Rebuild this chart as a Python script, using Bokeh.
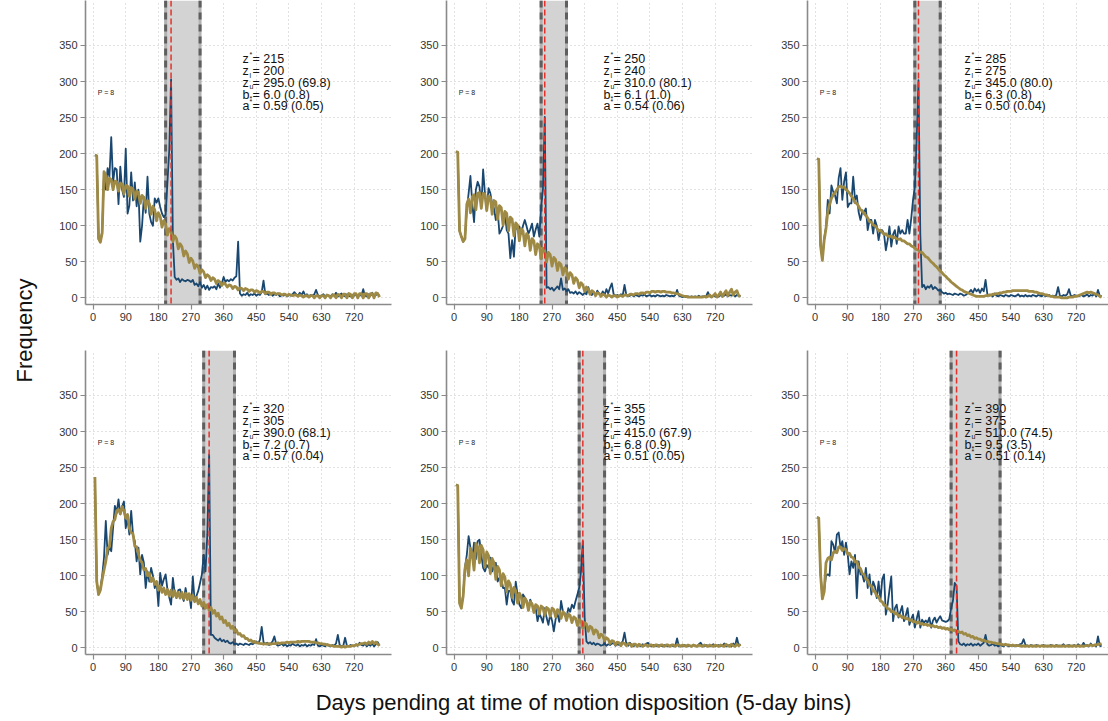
from bokeh.plotting import figure
from bokeh.layouts import row, column
from bokeh.models import BoxAnnotation, Span, Range1d
from bokeh.core.properties import value
from bokeh.embed import file_html
from bokeh.resources import INLINE

# ---------------- data ----------------
bins = list(range(5, 791, 5))  # 5-day bins (days pending)

zstar = [215, 250, 285, 320, 355, 390]
z_low = [200, 240, 275, 305, 345, 375]
z_up = [295.0, 310.0, 345.0, 390.0, 415.0, 510.0]
z_up_se = [69.8, 80.1, 80.0, 68.1, 67.9, 74.5]
b_val = [6.0, 6.1, 6.3, 7.2, 6.8, 9.5]
b_se = [0.8, 1.0, 0.8, 0.7, 0.9, 3.5]
a_val = [0.59, 0.54, 0.50, 0.57, 0.51, 0.51]
a_se = [0.05, 0.06, 0.04, 0.04, 0.05, 0.14]
poly_order = [8, 8, 8, 8, 8, 8]

x_ticks = [0, 90, 180, 270, 360, 450, 540, 630, 720]
y_ticks = [0, 50, 100, 150, 200, 250, 300, 350]

obs1 = [198,197,82,78,92,172,150,180,168,223,
        160,180,178,130,182,150,140,207,117,128,
        174,135,160,127,150,78,100,140,118,168,
        117,105,100,138,132,138,126,117,112,115,
        160,205,303,80,29,25,27,22,26,24,
        23,25,24,22,25,18,20,16,22,14,
        18,12,17,11,15,14,16,12,20,14,
        20,29,22,25,23,26,24,28,30,78,
        6,3,5,4,7,3,5,4,6,3,
        5,4,8,24,5,6,4,7,3,5,
        4,6,2,4,3,5,2,4,3,5,
        8,5,3,7,4,9,3,5,2,4,
        3,5,11,4,2,3,5,2,4,3,
        2,5,3,7,2,4,6,3,2,5,
        3,2,4,3,5,2,4,3,12,3,
        2,5,3,7,2,4,6,2]
cf1 = [198,197,82,77,90,175,170,150,166,164,
       150,162,161,148,159,158,144,156,155,141,
       153,151,137,148,146,131,142,139,124,135,
       131,116,127,122,107,118,113,98,107,102,
       87,96,92,78,86,82,68,75,71,58,
       65,61,49,55,51,41,46,43,34,39,
       36,28,32,30,24,28,26,20,24,22,
       17,21,19,15,18,17,13,16,15,11,
       14,13,10,13,12,9,11,11,8,10,
       9,7,9,9,6,8,8,5,7,7,
       5,6,6,4,5,5,3,5,4,3,
       4,4,2,4,3,1,3,3,1,3,
       3,0,3,3,0,3,3,0,4,3,
       0,4,4,0,5,4,0,5,5,0,
       6,5,0,6,6,0,6,6,0,6,
       6,0,6,6,0,7,6,1]

obs2 = [203,202,93,85,78,84,122,145,169,131,
        105,150,161,154,126,178,145,122,152,145,
        130,124,108,122,89,94,100,117,94,89,
        55,80,57,103,95,99,89,100,108,99,
        89,95,103,85,95,103,85,126,150,251,
        14,15,12,14,10,13,16,12,27,11,
        13,9,12,7,8,6,9,5,8,6,
        4,7,5,15,6,4,8,3,10,6,
        3,9,4,12,6,14,20,5,3,4,
        2,5,3,18,4,2,3,5,2,4,
        3,2,4,3,5,2,3,4,2,3,
        2,4,3,2,3,2,4,3,2,3,
        2,4,11,3,2,1,2,1,2,1,
        2,1,2,1,3,1,2,1,2,8,
        2,1,3,2,1,2,4,2,3,5,
        2,4,3,5,2,4,3,2]
cf2 = [203,202,93,85,78,82,130,137,118,140,
       143,122,145,146,124,145,144,121,141,139,
       116,135,133,109,128,125,101,120,117,93,
       112,109,86,104,101,79,96,93,72,89,
       86,66,82,79,60,75,72,55,69,66,
       50,63,60,44,56,53,38,49,46,32,
       42,39,26,35,32,20,28,25,14,21,
       18,9,15,12,5,10,8,3,7,6,
       2,5,4,1,4,3,1,3,3,1,
       3,3,2,4,4,3,5,5,4,6,
       6,5,7,7,6,8,8,7,9,9,
       8,9,9,8,9,9,8,8,8,7,
       7,6,6,5,4,3,2,2,1,1,
       1,1,1,1,1,1,1,2,1,2,
       4,1,3,6,1,4,8,2,6,10,
       3,8,12,4,8,10,3,2]

obs3 = [193,192,74,54,82,98,136,117,156,147,
        142,131,166,180,136,161,174,126,131,131,
        168,136,142,119,108,119,119,124,94,108,
        108,89,108,100,80,94,94,89,66,80,
        99,71,88,94,75,99,89,94,89,89,
        108,89,110,136,154,219,302,89,15,18,
        12,16,14,18,12,15,13,10,11,8,
        6,7,5,6,5,4,6,5,4,6,
        5,3,4,6,8,11,7,13,9,12,
        7,13,9,25,5,3,4,2,6,3,
        2,4,3,2,4,3,2,4,3,2,
        3,5,2,3,2,4,2,3,2,4,
        3,2,4,3,2,5,2,3,4,2,
        3,2,4,15,3,2,4,3,5,12,
        3,2,4,3,2,3,4,2,3,5,
        2,4,3,6,2,11,3,2]
cf3 = [193,192,72,52,80,96,120,130,138,143,
       146,150,154,155,153,154,150,148,145,141,
       138,132,131,127,122,121,117,114,111,106,
       105,101,100,97,93,94,91,88,89,86,
       85,86,83,84,82,81,82,79,79,77,
       75,75,72,71,69,67,66,63,63,60,
       57,56,53,50,48,45,43,40,37,35,
       32,30,27,25,22,20,18,16,14,12,
       11,9,8,7,6,5,4,3,2,2,
       2,2,2,3,3,4,4,5,5,6,
       6,7,7,8,8,9,9,9,10,10,
       10,10,10,10,10,10,10,9,9,9,
       8,8,7,6,6,5,4,4,3,2,
       2,1,1,1,1,0,0,0,0,1,
       1,1,2,2,3,4,5,6,7,8,
       7,8,7,6,5,4,2,1]

obs4 = [237,92,74,82,100,125,176,129,141,134,
        166,197,187,206,185,196,203,166,180,157,
        190,157,148,120,139,102,129,118,83,106,
        92,111,100,83,92,58,104,86,95,102,
        81,70,60,97,76,69,80,81,72,65,
        83,69,75,55,99,65,72,79,90,102,
        129,106,157,268,18,18,14,12,10,13,
        9,11,8,10,7,6,8,5,6,4,
        6,5,4,6,5,4,6,5,7,9,
        6,11,29,8,5,7,4,6,9,16,
        5,3,4,6,3,5,2,4,3,6,
        4,3,5,2,4,3,5,2,4,3,
        5,4,12,3,2,4,3,2,5,3,
        2,4,3,6,18,4,2,3,14,3,
        2,4,3,2,5,3,7,4,3,6,
        2,5,3,6,2,5,8,3]
cf4 = [237,92,74,80,95,108,120,138,140,166,
       175,178,190,192,186,196,190,180,185,166,
       160,158,141,140,130,122,118,108,110,100,
       104,92,97,88,92,80,86,77,83,74,
       81,72,80,71,79,70,77,69,77,68,
       76,67,75,66,73,64,70,61,67,58,
       63,55,60,52,56,48,52,44,48,40,
       43,35,38,31,34,27,30,23,25,19,
       20,16,17,13,13,10,11,8,9,7,
       7,6,6,5,6,5,6,5,6,6,
       6,7,6,7,7,7,8,7,8,8,
       8,8,9,8,9,9,9,9,9,8,
       8,8,7,7,6,6,5,5,4,4,
       3,3,2,2,2,2,1,2,1,2,
       2,2,3,3,4,4,5,6,6,7,
       5,8,6,9,6,8,5,3]

obs5 = [226,225,64,57,74,112,129,155,139,125,
        146,123,148,150,129,111,106,115,111,125,
        106,113,118,92,97,97,83,83,60,79,
        79,65,60,92,74,60,55,74,70,65,
        55,67,60,51,55,37,48,42,35,55,
        42,32,46,38,23,40,48,36,65,51,
        45,42,55,50,60,55,65,74,83,106,
        148,42,9,6,8,5,7,4,6,5,
        3,4,6,3,5,4,6,7,3,5,
        4,6,9,21,6,3,7,4,2,5,
        3,4,2,5,3,6,7,3,2,4,
        3,2,4,3,2,4,3,2,3,4,
        2,3,13,2,3,2,4,3,2,3,
        2,4,3,2,5,7,3,2,4,3,
        2,3,5,2,3,4,2,3,6,2,
        3,4,2,6,3,14,3,5]
cf5 = [226,225,62,55,72,110,122,100,138,130,
       108,145,140,118,142,136,112,133,128,103,
       124,118,95,113,108,86,103,98,78,93,
       88,70,84,79,62,76,71,56,69,65,
       52,64,61,49,60,58,47,58,56,45,
       56,54,44,55,53,43,53,51,41,50,
       48,38,47,45,35,43,41,31,39,37,
       27,35,33,23,30,28,19,25,23,14,
       19,17,10,14,12,6,10,9,4,8,
       7,3,7,6,3,6,5,2,5,5,
       2,5,4,2,4,4,2,4,4,2,
       4,4,2,4,4,2,4,4,2,4,
       4,2,4,4,2,4,3,2,4,3,
       2,4,3,2,4,3,2,4,3,2,
       4,3,2,4,3,2,4,3,2,5,
       3,2,5,3,2,5,3,5]

obs6 = [181,180,104,70,80,100,102,100,148,143,
        132,157,160,139,148,129,146,129,102,120,
        111,129,69,120,102,102,92,111,83,102,
        74,92,85,69,92,65,95,102,46,60,
        80,99,37,55,60,42,50,58,37,45,
        55,32,40,46,28,40,51,28,39,35,
        38,35,42,28,38,42,35,40,44,38,
        37,36,37,40,55,65,90,86,9,5,
        4,6,3,5,4,6,3,5,4,6,
        3,5,7,18,5,3,4,6,3,4,
        2,4,3,2,5,3,2,4,3,2,
        4,3,5,6,12,4,3,2,4,3,
        2,4,3,2,3,4,2,3,2,4,
        3,2,4,3,2,3,5,2,3,4,
        2,3,4,2,5,3,2,7,3,4,
        2,6,3,4,2,16,3,2]
cf6 = [181,180,102,68,78,118,124,126,122,132,
       134,132,140,140,135,138,136,130,131,126,
       125,119,120,112,110,103,102,95,94,87,
       86,79,78,72,71,65,64,59,59,54,
       54,50,51,47,48,44,45,42,43,40,
       41,38,39,36,37,34,36,33,34,32,
       33,31,32,30,31,29,30,28,29,27,
       28,26,27,25,26,24,25,22,23,21,
       22,19,20,17,18,15,16,13,14,12,
       12,10,11,9,9,8,8,7,7,6,
       6,5,5,4,5,4,4,3,4,3,
       3,3,3,2,3,2,3,2,3,2,
       3,2,3,2,3,2,3,2,3,2,
       3,2,3,2,3,2,3,2,3,2,
       3,2,3,2,3,2,3,2,3,3,
       3,4,3,4,4,5,5,6]

observed = [obs1, obs2, obs3, obs4, obs5, obs6]
counterfactual = [cf1, cf2, cf3, cf4, cf5, cf6]

# ---------------- style ----------------
FONT = "Liberation Sans"
BLUE = "#1a476f"
GOLD = "#9e8a44"
AXIS = "#8a8a8a"
TEXT_X = 412
LINE_Y = [330.6, 314.3, 298.0, 281.7, 265.4]


def make_panel(k, width, height, x_end, border_bottom):
    p = figure(width=width, height=height, output_backend="svg", toolbar_location=None,
               x_range=Range1d(-21, x_end), y_range=Range1d(-9.2, 412.4),
               min_border_left=45, min_border_right=(0 if k % 3 == 2 else 10),
               min_border_top=0, min_border_bottom=border_bottom,
               outline_line_color=None, background_fill_color="white",
               border_fill_color="white")
    p.xaxis.ticker = x_ticks
    p.yaxis.ticker = y_ticks
    for ax in (p.xaxis[0], p.yaxis[0]):
        ax.axis_line_color = AXIS
        ax.axis_line_width = 1.6
        ax.major_tick_line_color = AXIS
        ax.major_tick_line_width = 1.2
        ax.major_tick_out = 5
        ax.major_tick_in = 0
        ax.minor_tick_line_color = None
        ax.major_label_text_font = FONT
        ax.major_label_text_font_size = "11px"
        ax.major_label_text_color = "#333333"
        ax.major_label_standoff = 3
    p.xgrid.grid_line_color = "#c4c4c4"
    p.ygrid.grid_line_color = "#c4c4c4"
    p.xgrid.grid_line_dash = "1 3"
    p.ygrid.grid_line_dash = "1 3"
    p.xgrid.grid_line_width = 1
    p.ygrid.grid_line_width = 1

    p.add_layout(BoxAnnotation(left=z_low[k], right=z_up[k], fill_color="#d3d3d3",
                               fill_alpha=1.0, line_color=None, level="underlay"))
    for loc in (z_low[k], z_up[k]):
        p.add_layout(Span(location=loc, dimension="height", line_color="#b2b2b2",
                          line_width=3, level="underlay"))
        p.add_layout(Span(location=loc, dimension="height", line_color="#5f5f5f",
                          line_width=3, line_dash="7 5", level="underlay"))

    p.line(bins, observed[k], line_color=BLUE, line_width=1.8, line_join="round")
    p.line(bins, counterfactual[k], line_color=GOLD, line_width=2.8, line_join="round")

    p.add_layout(Span(location=zstar[k], dimension="height", line_color="#e8302a",
                      line_width=1.5, line_dash="6 3"))

    mains = ["z", "z", "z", "b", "a"]
    scripts = ["*", "l", "u", "*", "*"]
    script_dy = [-5, 4, 4, 4, -5]
    rests = [f" = {zstar[k]}", f" = {z_low[k]}",
             f" = {z_up[k]:.1f} ({z_up_se[k]:.1f})",
             f" = {b_val[k]:.1f} ({b_se[k]:.1f})",
             f" = {a_val[k]:.2f} ({a_se[k]:.2f})"]
    xs = [TEXT_X] * 5
    p.text(x=xs, y=LINE_Y, text=mains, text_font=value(FONT), text_font_size="12.5px",
           text_color="#111111", text_baseline="middle", text_align="left")
    p.text(x=xs, y=LINE_Y, text=scripts, x_offset=7.0, y_offset=script_dy,
           text_font=value(FONT), text_font_size="7px", text_color="#111111",
           text_baseline="middle", text_align="left")
    p.text(x=xs, y=LINE_Y, text=rests, x_offset=10.0, text_font=value(FONT),
           text_font_size="12.5px", text_color="#111111", text_baseline="middle",
           text_align="left")
    p.text(x=[13], y=[285], text=[f"P = {poly_order[k]}"], text_font=value(FONT),
           text_font_size="7px", text_color="#222222", text_baseline="middle",
           text_align="left")
    return p


panels = []
for k in range(6):
    top = k < 3
    last = (k % 3 == 2)
    w = 346 if last else 361
    x_end = 809 if last else 823
    h = 350 if top else 334
    bb = 46 if top else 30
    panels.append(make_panel(k, w, h, x_end, bb))


def label_fig(width, height):
    f = figure(width=width, height=height, output_backend="svg", toolbar_location=None,
               x_range=Range1d(0, 1), y_range=Range1d(0, 1),
               min_border=0, outline_line_color=None, border_fill_color="white",
               background_fill_color="white")
    f.axis.visible = False
    f.grid.visible = False
    return f


ylab = label_fig(40, 684)
ylab.text(x=[0.6], y=[1 - 330 / 684], text=["Frequency"], angle=1.5708,
          text_font=value(FONT), text_font_size="22px", text_color="#111111",
          text_align="center", text_baseline="middle")

xlab = label_fig(1108, 37)
xlab.text(x=[583 / 1108], y=[0.52], text=["Days pending at time of motion disposition (5-day bins)"],
          text_font=value(FONT), text_font_size="22px", text_color="#111111",
          text_align="center", text_baseline="middle")

grid = column(row(*panels[:3]), row(*panels[3:]))
layout = column(row(ylab, grid), xlab)

open("out.html", "w").write(file_html(layout, INLINE))
